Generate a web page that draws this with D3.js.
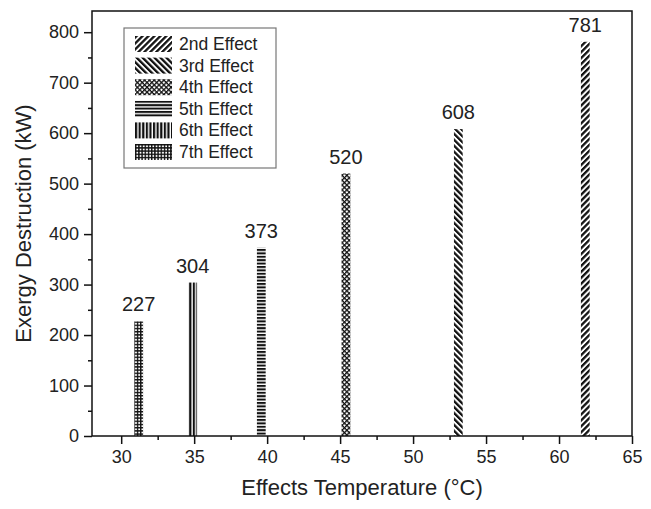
<!DOCTYPE html>
<html>
<head>
<meta charset="utf-8">
<script src="https://cdn.jsdelivr.net/npm/d3@7/dist/d3.min.js"></script>
<style>
  body { margin: 0; background: #fff; }
  text { font-family: Arial, "Liberation Sans", Helvetica, sans-serif; fill: #222; }
</style>
</head>
<body>
<svg id="chart"></svg>
<script>
// data
const effects = ['2nd Effect', '3rd Effect', '4th Effect', '5th Effect', '6th Effect', '7th Effect'];
const patterns = ['slash', 'backslash', 'cross', 'hlines', 'vlines', 'grid'];
const temps = [61.8, 53.1, 45.4, 39.6, 34.9, 31.2];
const exergy = [781, 608, 520, 373, 304, 227];
const xTicks = [30, 35, 40, 45, 50, 55, 60, 65];
const yTicks = [0, 100, 200, 300, 400, 500, 600, 700, 800];

const W = 651, H = 509;
const margin = {top: 11, right: 19, bottom: 73, left: 92};
const width = W - margin.left - margin.right;
const height = H - margin.top - margin.bottom;

const svg = d3.select('#chart').attr('width', W).attr('height', H);

// hatch patterns
const defs = svg.append('defs');
function stripes(id, size, thick, rot) {
  const p = defs.append('pattern').attr('id', id)
      .attr('patternUnits', 'userSpaceOnUse')
      .attr('width', size).attr('height', size)
      .attr('patternTransform', `rotate(${rot})`);
  p.append('rect').attr('width', size).attr('height', size).attr('fill', '#fff');
  p.append('rect').attr('width', thick).attr('height', size).attr('fill', '#111');
}
stripes('slash', 4.2, 2.3, 45);
stripes('backslash', 4.2, 2.3, -45);
stripes('vlines', 3.6, 2.2, 0);
stripes('hlines', 3.4, 2, 90);
// crosshatch (4th)
let p = defs.append('pattern').attr('id', 'cross')
    .attr('patternUnits', 'userSpaceOnUse')
    .attr('width', 3.4).attr('height', 3.4)
    .attr('patternTransform', 'rotate(45)');
p.append('rect').attr('width', 3.4).attr('height', 3.4).attr('fill', '#fff');
p.append('rect').attr('width', 1.3).attr('height', 3.4).attr('fill', '#111');
p.append('rect').attr('width', 3.4).attr('height', 1.3).attr('fill', '#111');
// grid (7th)
p = defs.append('pattern').attr('id', 'grid')
    .attr('patternUnits', 'userSpaceOnUse')
    .attr('width', 3.2).attr('height', 3.2);
p.append('rect').attr('width', 3.2).attr('height', 3.2).attr('fill', '#fff');
p.append('rect').attr('width', 1.4).attr('height', 3.2).attr('fill', '#111');
p.append('rect').attr('width', 3.2).attr('height', 1.4).attr('fill', '#111');

const g = svg.append('g').attr('transform', `translate(${margin.left},${margin.top})`);

const x = d3.scaleLinear().domain([28, 65]).range([0, width]);
const y = d3.scaleLinear().domain([0, 842]).range([height, 0]);

// bars
const barW = x(28.6) - x(28);
const data = effects.map((e, i) => ({name: e, pat: patterns[i], t: temps[i], v: exergy[i]}));

g.selectAll('.bar')
  .data(data)
  .join('rect')
    .attr('class', 'bar')
    .attr('x', d => x(d.t) - barW / 2)
    .attr('y', d => y(d.v))
    .attr('width', barW)
    .attr('height', d => height - y(d.v))
    .attr('fill', d => `url(#${d.pat})`);

g.selectAll('.val')
  .data(data)
  .join('text')
    .attr('class', 'val')
    .attr('x', d => x(d.t))
    .attr('y', d => y(d.v) - 10)
    .attr('text-anchor', 'middle')
    .attr('font-size', '20px')
    .text(d => d.v);

// axes
const xAxis = g.append('g').attr('transform', `translate(0,${height})`)
    .call(d3.axisBottom(x).tickValues(xTicks).tickSize(8).tickPadding(6));
const xMinor = g.append('g').attr('transform', `translate(0,${height})`)
    .call(d3.axisBottom(x).tickValues(d3.range(27.5, 65, 5).filter(v => v > 28)).tickSize(4).tickFormat(''));
const yAxis = g.append('g')
    .call(d3.axisLeft(y).tickValues(yTicks).tickSize(8).tickPadding(5));
const yMinor = g.append('g')
    .call(d3.axisLeft(y).tickValues(d3.range(50, 842, 100)).tickSize(4).tickFormat(''));

[xAxis, xMinor, yAxis, yMinor].forEach(a => {
  a.select('.domain').remove();
  a.selectAll('line').attr('stroke', '#111').attr('stroke-width', 1.5);
});
xAxis.selectAll('text').attr('font-size', '18px').attr('fill', '#222');
yAxis.selectAll('text').attr('font-size', '18px').attr('fill', '#222');

// frame
g.append('rect')
    .attr('width', width).attr('height', height)
    .attr('fill', 'none').attr('stroke', '#111').attr('stroke-width', 1.5);

// axis titles
svg.append('text')
    .attr('x', margin.left + width / 2)
    .attr('y', H - 14)
    .attr('text-anchor', 'middle')
    .attr('font-size', '22px')
    .text('Effects Temperature (°C)');

svg.append('text')
    .attr('transform', `translate(31,${margin.top + height / 2}) rotate(-90)`)
    .attr('text-anchor', 'middle')
    .attr('font-size', '22px')
    .text('Exergy Destruction (kW)');

// legend
const leg = svg.append('g').attr('transform', 'translate(124,28)');
leg.append('rect')
    .attr('width', 152).attr('height', 140)
    .attr('fill', '#fff').attr('stroke', '#777').attr('stroke-width', 1.2);
const rows = leg.selectAll('.row')
  .data(data)
  .join('g')
    .attr('class', 'row')
    .attr('transform', (d, i) => `translate(11,${8 + i * 21.6})`);
rows.append('rect')
    .attr('width', 37).attr('height', 16)
    .attr('fill', d => `url(#${d.pat})`);
rows.append('text')
    .attr('x', 44).attr('y', 14)
    .attr('font-size', '17.5px')
    .text(d => d.name);
</script>
</body>
</html>
